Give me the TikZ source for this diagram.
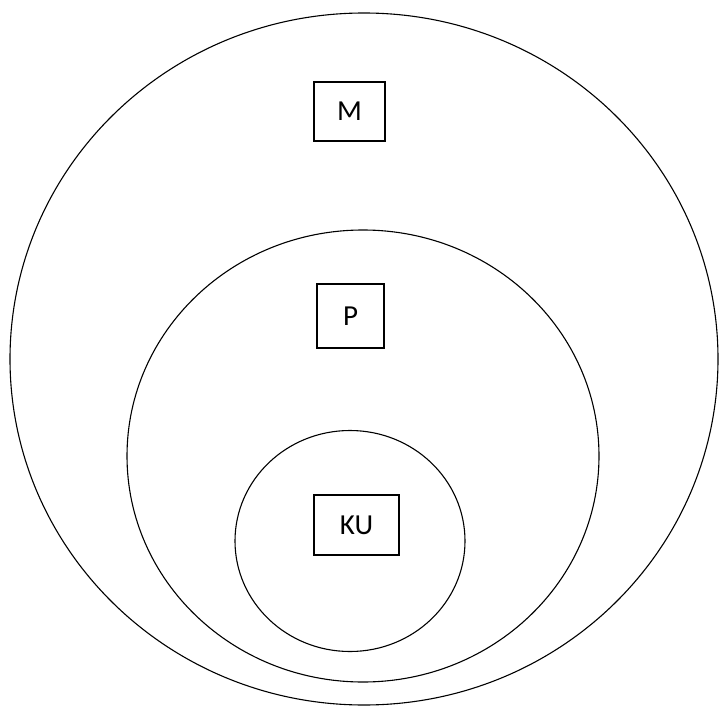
\documentclass[tikz,border=0pt]{standalone}
\usepackage{fontspec}
\setmainfont{Carlito}
\usepackage{xcolor}
\usepackage{tikz}
\usetikzlibrary{shapes.geometric}
\tikzset{
  setring/.style={draw=black,ellipse,line width=1.1pt,inner sep=0pt},
  labelbox/.style={draw=black,rectangle,line width=1.3pt,inner sep=0pt,
    fill=white,font=\fontsize{29}{32}\selectfont}
}
\begin{document}
\begin{tikzpicture}[x=1pt,y=-1pt]
\useasboundingbox (0,0) rectangle (720,706);

\node[setring, minimum width=708pt, minimum height=692pt] (setM) at (364,359) {};
\node[setring, minimum width=472pt, minimum height=452pt] (setP) at (363,456) {};
\node[setring, minimum width=230pt, minimum height=221pt] (setKU) at (350,541) {};

\node[labelbox, minimum width=71pt, minimum height=59pt] (boxM) at (349.5,111.5) {M};
\node[labelbox, minimum width=67pt, minimum height=64pt] (boxP) at (350.5,316) {P};
\node[labelbox, minimum width=85pt, minimum height=60pt] (boxKU) at (356.5,525) {KU};
\end{tikzpicture}
\end{document}
